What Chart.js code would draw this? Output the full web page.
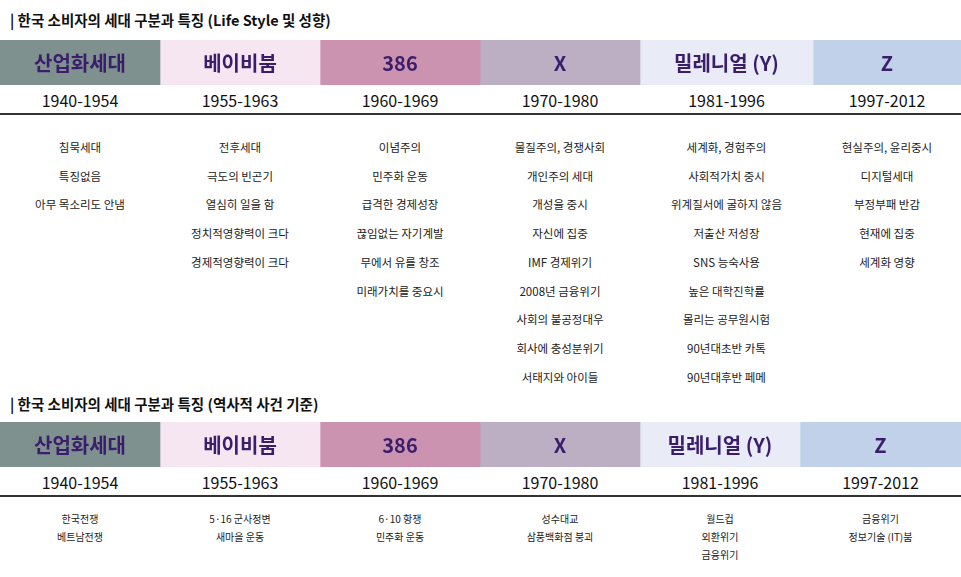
<!DOCTYPE html>
<html><head><meta charset="utf-8">
<script src="https://cdn.jsdelivr.net/npm/chart.js@4"></script>
<style>
body{margin:0;width:961px;height:577px;background:#fff;font-family:"Noto Sans CJK KR","Noto Sans",sans-serif;color:#222;position:relative;overflow:hidden}
.title{position:absolute;left:10px;font-size:14.5px;font-weight:700;color:#111}
.band{position:absolute;left:0;width:961px}
.row{position:absolute;left:0;width:961px;display:flex}
.row div{text-align:center}
.yr{font-size:16px;color:#111}
.line{position:absolute;left:0;width:961px;height:2px;background:#333}
</style></head><body>
<div class="title" style="top:9px">| 한국 소비자의 세대 구분과 특징 (Life Style 및 성향)</div>
<div class="band" style="top:40px;height:45px"><canvas id="band1"></canvas></div>
<div class="row yr" id="years1" style="top:88px"></div>
<div class="line" style="top:113px"></div>
<div class="row" id="items1" style="top:133px;font-size:11.5px;line-height:28.7px"></div>
<div class="title" style="top:393px">| 한국 소비자의 세대 구분과 특징 (역사적 사건 기준)</div>
<div class="band" style="top:422px;height:45px"><canvas id="band2"></canvas></div>
<div class="row yr" id="years2" style="top:470px"></div>
<div class="line" style="top:495px"></div>
<div class="row" id="items2" style="top:510px;font-size:10px;line-height:18px"></div>
<script>
// data
const generations = ["산업화세대", "베이비붐", "386", "X", "밀레니얼 (Y)", "Z"];
const years = ["1940-1954", "1955-1963", "1960-1969", "1970-1980", "1981-1996", "1997-2012"];
const widthsTop = [160, 160, 160, 160, 173, 148];
const widthsBottom = [160, 160, 160, 160, 160, 161];
const genColors = ["#7e918f", "#f6e6f2", "#cc93b1", "#bcaec3", "#e9ebf7", "#c1d1e9"];
const lifestyle = [
  ["침묵세대", "특징없음", "아무 목소리도 안냄"],
  ["전후세대", "극도의 빈곤기", "열심히 일을 함", "정치적영향력이 크다", "경제적영향력이 크다"],
  ["이념주의", "민주화 운동", "급격한 경제성장", "끊임없는 자기계발", "무에서 유를 창조", "미래가치를 중요시"],
  ["물질주의, 경쟁사회", "개인주의 세대", "개성을 중시", "자신에 집중", "IMF 경제위기", "2008년 금융위기", "사회의 불공정대우", "회사에 충성분위기", "서태지와 아이들"],
  ["세계화, 경험주의", "사회적가치 중시", "위계질서에 굴하지 않음", "저출산 저성장", "SNS 능숙사용", "높은 대학진학률", "몰리는 공무원시험", "90년대초반 카톡", "90년대후반 페메"],
  ["현실주의, 윤리중시", "디지털세대", "부정부패 반감", "현재에 집중", "세계화 영향"]
];
const events = [
  ["한국전쟁", "베트남전쟁"],
  ["5·16 군사정변", "새마을 운동"],
  ["6·10 항쟁", "민주화 운동"],
  ["성수대교", "삼풍백화점 붕괴"],
  ["월드컵", "외환위기", "금융위기"],
  ["금융위기", "정보기술 (IT)붐"]
];

const labelPlugin = {
  id: "segLabels",
  afterDatasetsDraw(chart) {
    const ctx = chart.ctx;
    ctx.save();
    ctx.font = "bold 20px 'Noto Sans CJK KR', sans-serif";
    ctx.fillStyle = "#3a1d6b";
    ctx.textAlign = "center";
    ctx.textBaseline = "middle";
    chart.data.datasets.forEach((ds, i) => {
      const bar = chart.getDatasetMeta(i).data[0];
      ctx.fillText(ds.label, (bar.base + bar.x) / 2, bar.y + 1);
    });
    ctx.restore();
  }
};

function makeBand(id, widths) {
  new Chart(document.getElementById(id), {
    type: "bar",
    data: {
      labels: [""],
      datasets: generations.map((g, i) => ({
        label: g, data: [widths[i]], backgroundColor: genColors[i],
        barPercentage: 1, categoryPercentage: 1, borderWidth: 0
      }))
    },
    options: {
      indexAxis: "y", responsive: true, maintainAspectRatio: false, animation: false,
      layout: { padding: 0 },
      plugins: { legend: { display: false }, tooltip: { enabled: false } },
      scales: {
        x: { stacked: true, display: false, min: 0, max: 961 },
        y: { stacked: true, display: false }
      }
    },
    plugins: [labelPlugin]
  });
}

function fillRow(id, widths, cols) {
  const row = document.getElementById(id);
  cols.forEach((c, i) => {
    const d = document.createElement("div");
    d.style.width = widths[i] + "px";
    d.innerHTML = Array.isArray(c) ? c.join("<br>") : c;
    row.appendChild(d);
  });
}

makeBand("band1", widthsTop);
makeBand("band2", widthsBottom);
fillRow("years1", widthsTop, years);
fillRow("items1", widthsTop, lifestyle);
fillRow("years2", widthsBottom, years);
fillRow("items2", widthsBottom, events);
</script>
</body></html>
